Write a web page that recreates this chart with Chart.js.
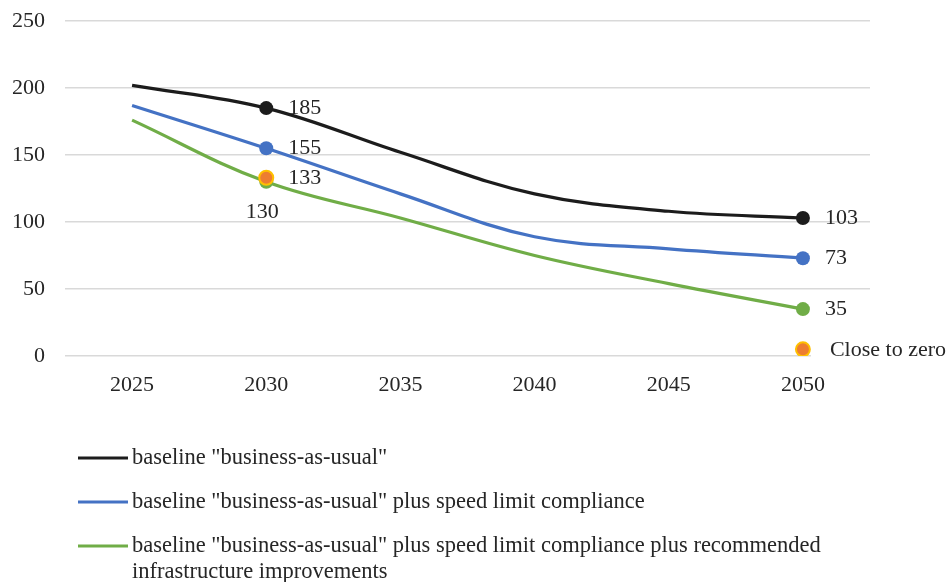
<!DOCTYPE html>
<html>
<head>
<meta charset="utf-8">
<script src="https://cdn.jsdelivr.net/npm/chart.js@4/dist/chart.umd.min.js"></script>
<style>
  html, body { margin: 0; padding: 0; background: #ffffff; }
  #wrap { width: 951px; height: 582px; }
</style>
</head>
<body>
<div id="wrap"><canvas id="chart" width="951" height="582"></canvas></div>
<script>
// Projected figures per year for each scenario
const years = ['2025', '2030', '2035', '2040', '2045', '2050'];
const baseline = [202, 185, 152, 121, 108, 103];
const speedCompliance = [187, 155, 121, 89, 80, 73];
const speedAndInfra = [176, 130, 103, 75, 54, 35];
const targetPoints = [null, 133, null, null, null, 5];
const targetText = [null, '133', null, null, null, 'Close to zero'];

const seriesNames = [
  'baseline "business-as-usual"',
  'baseline "business-as-usual" plus speed limit compliance',
  'baseline "business-as-usual" plus speed limit compliance plus recommended infrastructure improvements'
];
const yTicks = [0, 50, 100, 150, 200, 250];

const FONT = '"Liberation Serif", "Times New Roman", serif';
const TEXT = '#262626';
const markerRadius = [0, 7, 0, 0, 0, 7];

function lineSeries(label, data, color, order) {
  return {
    label, data, order,
    borderColor: color, backgroundColor: color,
    borderWidth: 3.2, tension: 0.38,
    pointRadius: markerRadius, pointHoverRadius: markerRadius,
    pointBorderWidth: 0, pointBackgroundColor: color,
    isSeries: true
  };
}

// Value labels beside the markers
const valueLabels = {
  id: 'valueLabels',
  afterDatasetsDraw(chart) {
    const ctx = chart.ctx;
    ctx.save();
    ctx.font = '22px ' + FONT;
    ctx.fillStyle = TEXT;
    ctx.textBaseline = 'middle';
    chart.data.datasets.forEach((ds, di) => {
      const meta = chart.getDatasetMeta(di);
      meta.data.forEach((pt, i) => {
        const v = ds.data[i];
        if (v == null) return;
        if (ds.isSeries && markerRadius[i] === 0) return;
        let text = ds.isTarget ? targetText[i] : String(v);
        if (ds.isTarget && i === years.length - 1) {
          const w = ctx.measureText(text).width;
          ctx.save();
          ctx.fillStyle = '#ffffff';
          ctx.fillRect(pt.x + 8, pt.y - 13, w + 30, 26);
          ctx.restore();
          ctx.textAlign = 'left';
          ctx.fillText(text, pt.x + 27, pt.y + 1);
          return;
        }
        if (ds.label === seriesNames[2] && i === 1) {
          ctx.textAlign = 'center';
          ctx.fillText(text, pt.x - 4, pt.y + 30);
          return;
        }
        ctx.textAlign = 'left';
        ctx.fillText(text, pt.x + 22, pt.y);
      });
    });
    ctx.restore();
  }
};

// Legend drawn under the plot, with wrapping for long names
const bottomLegend = {
  id: 'bottomLegend',
  afterDraw(chart) {
    const ctx = chart.ctx;
    ctx.save();
    ctx.font = '22.5px ' + FONT;
    ctx.fillStyle = TEXT;
    ctx.textBaseline = 'middle';
    ctx.textAlign = 'left';
    const x0 = 78, x1 = 128, tx = 132, maxW = 780, lineH = 26;
    let y = 458;
    chart.data.datasets.filter(d => d.isSeries).forEach(ds => {
      ctx.strokeStyle = ds.borderColor;
      ctx.lineWidth = 3.2;
      ctx.beginPath();
      ctx.moveTo(x0, y);
      ctx.lineTo(x1, y);
      ctx.stroke();
      const words = ds.label.split(' ');
      let line = '';
      const lines = [];
      words.forEach(w => {
        const test = line ? line + ' ' + w : w;
        if (ctx.measureText(test).width > maxW && line) {
          lines.push(line);
          line = w;
        } else {
          line = test;
        }
      });
      lines.push(line);
      lines.forEach((l, k) => ctx.fillText(l, tx, y + k * lineH));
      y += 44;
    });
    ctx.restore();
  }
};

new Chart(document.getElementById('chart'), {
  type: 'line',
  data: {
    labels: years,
    datasets: [
      {
        label: 'target', data: targetPoints, order: 0, isTarget: true,
        showLine: false, pointRadius: 7, pointHoverRadius: 7,
        pointBackgroundColor: '#ED7D31', pointBorderColor: '#FFC000',
        pointBorderWidth: 2, borderColor: '#ED7D31', backgroundColor: '#ED7D31'
      },
      lineSeries(seriesNames[0], baseline, '#1c1c1c', 1),
      lineSeries(seriesNames[1], speedCompliance, '#4472C4', 2),
      lineSeries(seriesNames[2], speedAndInfra, '#70AD47', 3)
    ]
  },
  options: {
    responsive: false,
    animation: false,
    devicePixelRatio: 1,
    layout: { padding: { top: 21, right: 81, left: 0, bottom: 0 } },
    plugins: { legend: { display: false }, tooltip: { enabled: false } },
    scales: {
      x: {
        offset: true,
        grid: { display: false },
        border: { display: false },
        ticks: { font: { family: FONT, size: 22 }, color: TEXT, padding: 8, maxRotation: 0 },
        afterFit(scale) { scale.height = 226; }
      },
      y: {
        min: 0, max: 250,
        grid: { color: '#d9d9d9', lineWidth: 1.5, drawTicks: false },
        border: { display: false },
        afterBuildTicks(scale) { scale.ticks = yTicks.map(v => ({ value: v })); },
        ticks: { font: { family: FONT, size: 22 }, color: TEXT, padding: 20 },
        afterFit(scale) {
          scale.width = 65;
          scale.paddingTop = 0;
          scale.paddingBottom = 0;
        }
      }
    }
  },
  plugins: [valueLabels, bottomLegend]
});
</script>
</body>
</html>
